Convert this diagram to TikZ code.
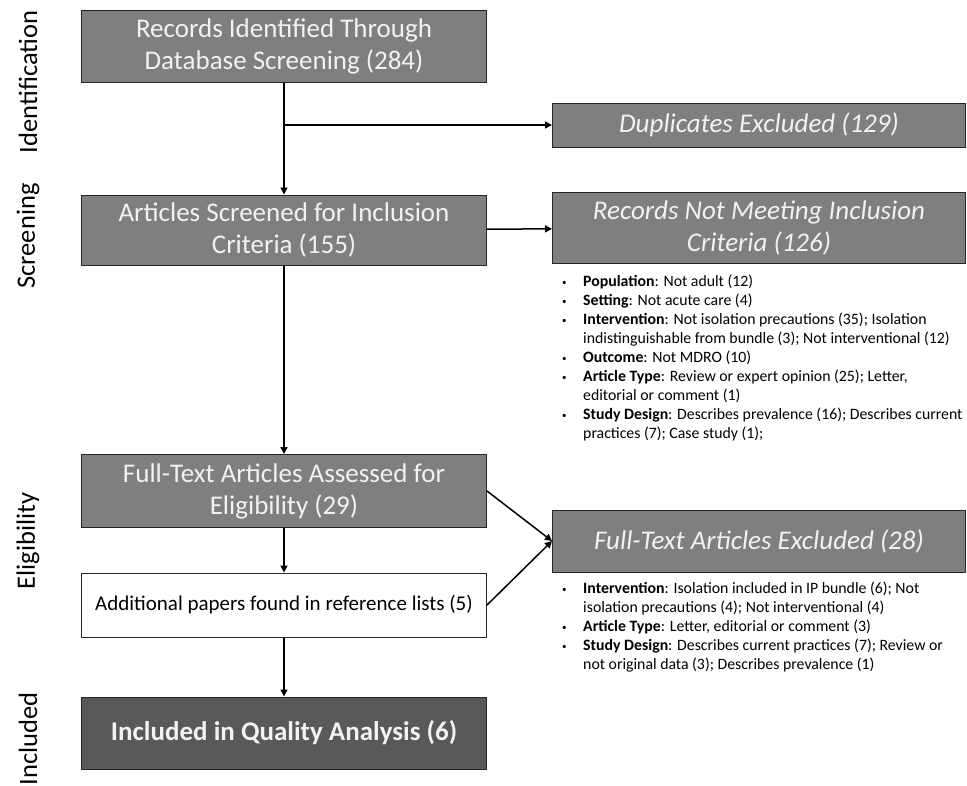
\documentclass[tikz,border=0pt]{standalone}
\usepackage{fontspec}
\setmainfont{Carlito}
\usetikzlibrary{arrows.meta}
\definecolor{boxgray}{HTML}{7F7F7F}
\definecolor{boxdark}{HTML}{595959}
\newcommand{\pt}{\makebox[21pt][l]{\raisebox{1.5pt}{\fontsize{9}{9}\selectfont\textbullet}}}
\begin{document}
\begin{tikzpicture}[x=1pt,y=-1pt,
    stage/.style={draw=black!85,line width=1pt,fill=boxgray,text=white!95!black,align=center,
      font=\fontsize{27}{32}\selectfont,minimum width=405pt,inner sep=2pt},
    outbox/.style={stage,minimum width=413pt,font=\fontsize{27}{32}\selectfont\itshape},
    notes/.style={anchor=north west,inner sep=0pt,font=\fontsize{15.8}{19}\selectfont},
    side/.style={rotate=90,font=\fontsize{26.5}{30}\selectfont},
    flow/.style={line width=1.5pt,-{Triangle[length=7pt,width=7pt]}}]
\useasboundingbox (0,0) rectangle (967,785);
% phase labels
\node[side] (lid) at (28,82) {Identification};
\node[side] (lsc) at (28,236) {Screening};
\node[side] (lel) at (28,541) {Eligibility};
\node[side] (lin) at (28,739) {Included};
% main column
\node[stage,minimum height=72pt] (rec) at (284,46) {Records Identified Through\\Database Screening (284)};
\node[stage,minimum height=70pt] (scr) at (284,230) {Articles Screened for Inclusion\\Criteria (155)};
\node[stage,minimum height=73pt] (full) at (284,491) {Full-Text Articles Assessed for\\Eligibility (29)};
\node[stage,fill=white,text=black,minimum height=64pt,font=\fontsize{21}{25}\selectfont] (add) at (284,605) {Additional papers found in reference lists (5)};
\node[stage,fill=boxdark,minimum height=72pt,font=\fontsize{27}{32}\selectfont\bfseries] (incl) at (284,733) {Included in Quality Analysis (6)};
% exclusions
\node[outbox,minimum height=44pt] (dup) at (759,125) {Duplicates Excluded (129)};
\node[outbox,minimum height=71pt] (notmeet) at (759,228) {Records Not Meeting Inclusion\\Criteria (126)};
\node[outbox,minimum height=62pt] (excl) at (759,541) {Full-Text Articles Excluded (28)};
% reasons
\node[notes] (why1) at (562,273) {\begin{tabular}{@{}l@{}l@{}}
\pt & \textbf{Population}: Not adult (12)\\
\pt & \textbf{Setting}: Not acute care (4)\\
\pt & \textbf{Intervention}: Not isolation precautions (35); Isolation\\
 & indistinguishable from bundle (3); Not interventional (12)\\
\pt & \textbf{Outcome}: Not MDRO (10)\\
\pt & \textbf{Article Type}: Review or expert opinion (25); Letter,\\
 & editorial or comment (1)\\
\pt & \textbf{Study Design}: Describes prevalence (16); Describes current\\
 & practices (7); Case study (1);
\end{tabular}};
\node[notes] (why2) at (562,580) {\begin{tabular}{@{}l@{}l@{}}
\pt & \textbf{Intervention}: Isolation included in IP bundle (6); Not\\
 & isolation precautions (4); Not interventional (4)\\
\pt & \textbf{Article Type}: Letter, editorial or comment (3)\\
\pt & \textbf{Study Design}: Describes current practices (7); Review or\\
 & not original data (3); Describes prevalence (1)
\end{tabular}};
% connectors
\coordinate (br) at (rec.south |- dup.west);
\draw[flow] (rec) -- (scr);
\draw[flow] (br) -- (dup);
\draw[flow] (scr) -- (notmeet);
\draw[flow] (scr) -- (full);
\draw[flow] (full) -- (add);
\draw[flow] (full.east) -- (excl.west);
\draw[flow] (add.east) -- (excl.west);
\draw[flow] (add) -- (incl);
\end{tikzpicture}
\end{document}
